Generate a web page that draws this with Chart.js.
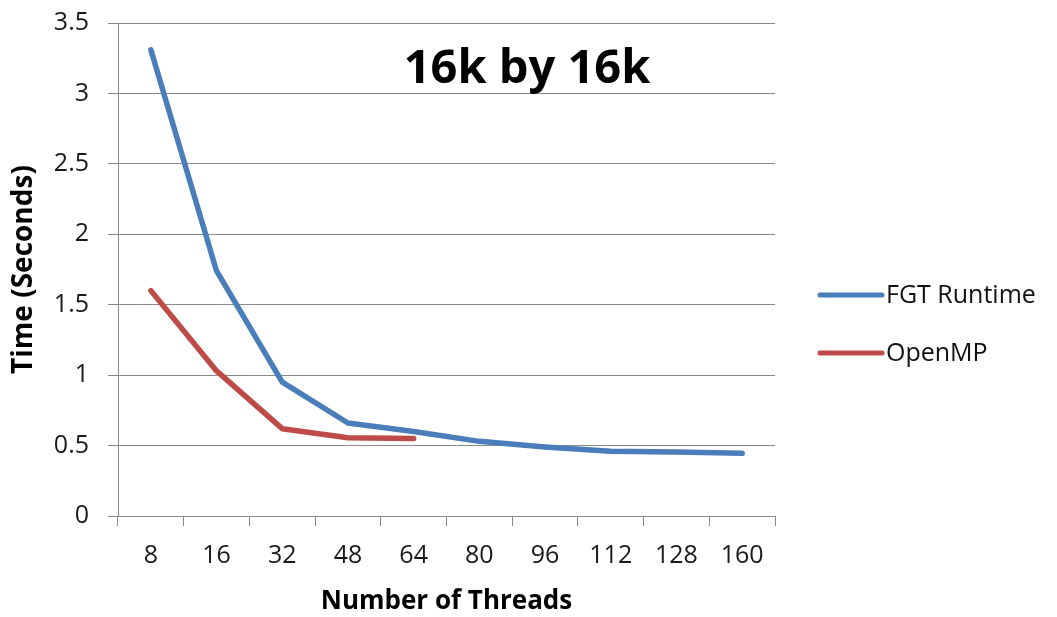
<!DOCTYPE html>
<html>
<head>
<meta charset="utf-8">
<title>16k by 16k</title>
<script src="https://cdn.jsdelivr.net/npm/chart.js@4/dist/chart.umd.min.js"></script>
<style>
  html, body { margin: 0; padding: 0; background: #ffffff; }
  #wrap { width: 1057px; height: 617px; }
</style>
</head>
<body>
<div id="wrap"><canvas id="c" width="1057" height="617"></canvas></div>
<script>
// Thread counts on the x axis
const threads = ['8', '16', '32', '48', '64', '80', '96', '112', '128', '160'];
// Run times in seconds
const fgtRuntime = [3.31, 1.74, 0.95, 0.66, 0.60, 0.53, 0.49, 0.46, 0.455, 0.445];
const openMP = [1.60, 1.03, 0.62, 0.555, 0.55];
const seriesNames = ['FGT Runtime', 'OpenMP'];
// y tick labels, bottom to top
const yTickLabels = ['0', '0.5', '1', '1.5', '2', '2.5', '3', '3.5'];
const chartTitle = '16k by 16k';
const xTitle = 'Number of Threads';
const yTitle = 'Time (Seconds)';

const FONT = "'Open Sans', 'DejaVu Sans', sans-serif";
const GRID = '#8a8a8a';

// white page behind the chart
const background = {
  id: 'background',
  beforeDraw(chart) {
    const ctx = chart.ctx;
    ctx.save();
    ctx.fillStyle = '#ffffff';
    ctx.fillRect(0, 0, chart.width, chart.height);
    ctx.restore();
  }
};

// bold heading inside the plot area
const heading = {
  id: 'heading',
  afterDraw(chart) {
    const ctx = chart.ctx;
    const a = chart.chartArea;
    ctx.save();
    ctx.font = "bold 47px " + FONT;
    ctx.fillStyle = '#000000';
    ctx.textAlign = 'center';
    ctx.textBaseline = 'alphabetic';
    ctx.fillText(chartTitle, 527, a.top + 60);
    ctx.restore();
  }
};

// line-sample legend to the right of the plot
const sideLegend = {
  id: 'sideLegend',
  afterDraw(chart) {
    const ctx = chart.ctx;
    const x0 = 820, x1 = 882, rows = [295, 353];
    ctx.save();
    chart.data.datasets.forEach((ds, i) => {
      const y = rows[i];
      ctx.strokeStyle = ds.borderColor;
      ctx.lineWidth = 5;
      ctx.lineCap = 'round';
      ctx.beginPath();
      ctx.moveTo(x0, y);
      ctx.lineTo(x1, y);
      ctx.stroke();
      ctx.font = "25px " + FONT;
      ctx.fillStyle = '#111111';
      ctx.textAlign = 'left';
      ctx.textBaseline = 'middle';
      ctx.fillText(ds.label, x1 + 4, y + 1);
    });
    ctx.restore();
  }
};

new Chart(document.getElementById('c'), {
  type: 'line',
  data: {
    labels: threads,
    datasets: [
      {
        label: seriesNames[0],
        data: fgtRuntime,
        borderColor: '#4a7ebb',
        borderWidth: 5.5,
        borderCapStyle: 'round',
        borderJoinStyle: 'round',
        pointRadius: 0,
        tension: 0,
        fill: false
      },
      {
        label: seriesNames[1],
        data: openMP,
        borderColor: '#be4b48',
        borderWidth: 5.5,
        borderCapStyle: 'round',
        borderJoinStyle: 'round',
        pointRadius: 0,
        tension: 0,
        fill: false
      }
    ]
  },
  options: {
    responsive: false,
    animation: false,
    devicePixelRatio: 1,
    layout: { padding: { left: 0, top: 23, right: 282, bottom: 0 } },
    plugins: {
      legend: { display: false },
      title: { display: false },
      tooltip: { enabled: false }
    },
    scales: {
      x: {
        offset: true,
        grid: {
          offset: true,
          drawOnChartArea: false,
          drawTicks: true,
          tickLength: 10,
          color: GRID,
          lineWidth: 1
        },
        border: { display: true, color: GRID, width: 1 },
        ticks: {
          color: '#1a1a1a',
          font: { family: FONT, size: 25 },
          padding: 15,
          maxRotation: 0,
          autoSkip: false
        },
        title: {
          display: true,
          text: xTitle,
          color: '#000000',
          font: { family: FONT, size: 26, weight: 'bold' },
          padding: { top: 0, bottom: 0 }
        },
        afterFit(scale) {
          scale.height = 101;
          scale.paddingLeft = 0;
          scale.paddingRight = 0;
        }
      },
      y: {
        min: 0,
        max: 3.5,
        ticks: {
          stepSize: 0.5,
          color: '#1a1a1a',
          font: { family: FONT, size: 25 },
          padding: 19,
          callback: (value, index) => yTickLabels[index]
        },
        grid: {
          drawTicks: true,
          tickLength: 10,
          color: GRID,
          lineWidth: 1
        },
        border: { display: true, color: GRID, width: 1 },
        title: {
          display: true,
          text: yTitle,
          color: '#000000',
          font: { family: FONT, size: 28, weight: 'bold' },
          padding: { top: 7, bottom: 0 }
        },
        afterFit(scale) {
          scale.width = 118;
          scale.paddingTop = 0;
          scale.paddingBottom = 0;
        }
      }
    }
  },
  plugins: [background, heading, sideLegend]
});
</script>
</body>
</html>
